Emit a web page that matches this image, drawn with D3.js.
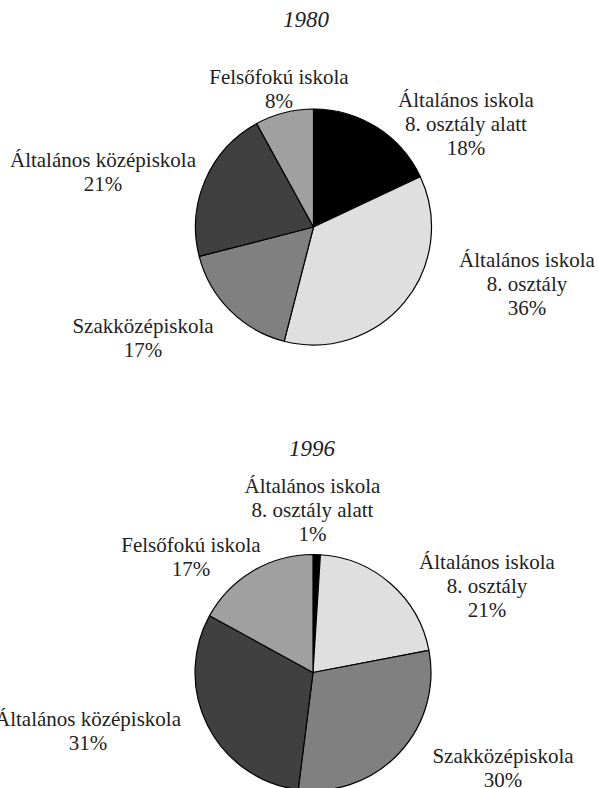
<!DOCTYPE html>
<html>
<head>
<meta charset="utf-8">
<script src="https://cdn.jsdelivr.net/npm/d3@7"></script>
<style>
  html, body { margin: 0; padding: 0; background: #fff; }
  svg text { font-family: "Liberation Serif", "Times New Roman", serif; fill: #222; }
</style>
</head>
<body>
<div id="chart"></div>
<script>
// categories, clockwise from 12 o'clock
var categories = ["Általános iskola 8. osztály alatt", "Általános iskola 8. osztály",
                  "Szakközépiskola", "Általános középiskola", "Felsőfokú iskola"];
var labelLines = [["Általános iskola", "8. osztály alatt"], ["Általános iskola", "8. osztály"],
                  ["Szakközépiskola"], ["Általános középiskola"], ["Felsőfokú iskola"]];
var years      = ["1980", "1996"];
var values1980 = [18, 36, 17, 21, 8];
var values1996 = [1, 21, 30, 31, 17];

var fills = ["#000000", "#dfdfdf", "#808080", "#404040", "#a0a0a0"];

var width = 599, height = 788, radius = 118, lineH = 24;

// layout of each pie: centre, title, label anchor (centre x, first baseline)
var layouts = [
  { cx: 313.5, cy: 227, title: [306, 27],
    labels: [[466, 107], [527, 267], [143, 333], [103, 167], [279, 84]] },
  { cx: 313, cy: 672.5, title: [312, 456],
    labels: [[312.5, 493], [487, 569], [503, 763], [88, 726], [191, 552]] }
];

var svg = d3.select("#chart").append("svg")
    .attr("width", width)
    .attr("height", height);

var pie = d3.pie().sort(null).value(function(d) { return d; });
var arc = d3.arc().innerRadius(0).outerRadius(radius);

[values1980, values1996].forEach(function(values, k) {
  var lay = layouts[k];

  svg.append("text")
      .attr("x", lay.title[0])
      .attr("y", lay.title[1])
      .attr("text-anchor", "middle")
      .style("font-size", "23px")
      .style("font-style", "italic")
      .text(years[k]);

  var g = svg.append("g")
      .attr("transform", "translate(" + lay.cx + "," + lay.cy + ")");

  g.selectAll("path")
      .data(pie(values))
    .enter().append("path")
      .attr("d", arc)
      .attr("fill", function(d, i) { return fills[i]; })
      .attr("stroke", "#000")
      .attr("stroke-width", 1.2)
      .attr("stroke-linejoin", "round");

  var lbl = svg.selectAll(".lbl" + k)
      .data(values)
    .enter().append("text")
      .attr("class", "lbl" + k)
      .attr("text-anchor", "middle")
      .style("font-size", "21px");

  lbl.each(function(v, i) {
    var t = d3.select(this);
    var lines = labelLines[i].concat([v + "%"]);
    lines.forEach(function(s, j) {
      t.append("tspan")
          .attr("x", lay.labels[i][0])
          .attr("y", lay.labels[i][1] + j * lineH)
          .text(s);
    });
  });
});
</script>
</body>
</html>
